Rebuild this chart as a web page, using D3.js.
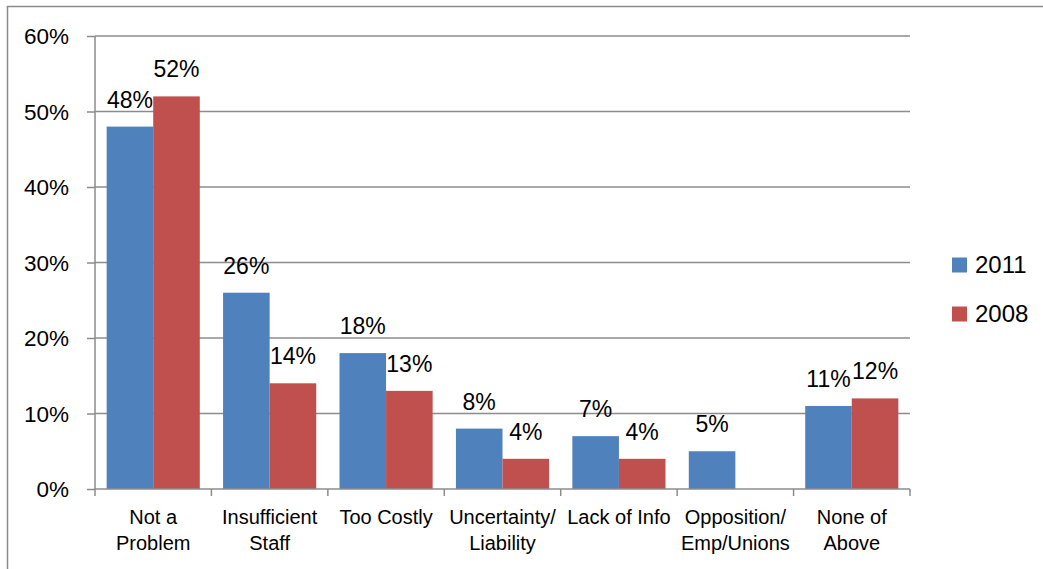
<!DOCTYPE html>
<html><head><meta charset="utf-8">
<script src="https://cdn.jsdelivr.net/npm/d3@7"></script>
<style>body{margin:0;background:#fff}svg{display:block}text{font-family:"Liberation Sans",Arial,sans-serif;fill:#000}</style>
</head><body>
<svg id="c" width="1043" height="569"></svg>
<script>
const categories = [["Not a","Problem"],["Insufficient","Staff"],["Too Costly"],["Uncertainty/","Liability"],["Lack of Info"],["Opposition/","Emp/Unions"],["None of","Above"]];
const series = ["2011","2008"];
const values2011 = [48,26,18,8,7,5,11];
const values2008 = [52,14,13,4,4,null,12];
const yTicks = [0,10,20,30,40,50,60];
const colors = ["#4F81BD","#C0504D"];

const svg = d3.select("#c");
svg.append("rect").attr("x",7.5).attr("y",6.5).attr("width",1100).attr("height",700)
  .attr("fill","none").attr("stroke","#8a8a8a").attr("stroke-width",1.5);

const L=95, R=910, T=36, B=489;
const x = d3.scaleBand().domain(d3.range(categories.length)).range([L,R]).paddingInner(0.2).paddingOuter(0.1);
const x0 = d3.scaleBand().domain(d3.range(categories.length)).range([L,R]);
const xs = d3.scaleBand().domain(series).range([0,x.bandwidth()]);
const y = d3.scaleLinear().domain([0,60]).range([B,T]);

// gridlines
svg.append("g").selectAll("line").data(yTicks.filter(d=>d>0)).join("line")
  .attr("x1",L).attr("x2",R).attr("y1",d=>y(d)).attr("y2",d=>y(d))
  .attr("stroke","#8c8c8c").attr("stroke-width",1.5);

const data = [values2011, values2008];
series.forEach((s,si)=>{
  const vals = data[si];
  const g = svg.append("g");
  g.selectAll("rect").data(vals.map((v,i)=>({v,i})).filter(d=>d.v!=null)).join("rect")
    .attr("x",d=>x(d.i)+xs(s)).attr("width",xs.bandwidth())
    .attr("y",d=>y(d.v)).attr("height",d=>B-y(d.v)).attr("fill",colors[si]);
  g.selectAll("text").data(vals.map((v,i)=>({v,i})).filter(d=>d.v!=null)).join("text")
    .attr("x",d=>x(d.i)+xs(s)+xs.bandwidth()/2).attr("y",d=>y(d.v)-19)
    .attr("text-anchor","middle").attr("font-size",23).text(d=>d.v+"%");
});

// y axis
const ya = d3.axisLeft(y).tickValues(yTicks).tickFormat(d=>d+"%").tickSize(8).tickPadding(18);
const yg = svg.append("g").attr("transform",`translate(${L},0)`).call(ya);
yg.selectAll("line,path").attr("stroke","#8c8c8c").attr("stroke-width",1.5);
yg.select("path").attr("d",`M0,${T}V${B}`);
yg.selectAll("text").attr("font-size",22.5).attr("dy","0.35em").style("font-family",'"Liberation Sans",Arial,sans-serif');

// x axis
const xg = svg.append("g");
xg.append("line").attr("x1",L).attr("x2",R).attr("y1",B).attr("y2",B).attr("stroke","#8c8c8c").attr("stroke-width",1.5);
xg.selectAll("line.t").data(d3.range(categories.length+1)).join("line").attr("class","t")
  .attr("x1",i=>L+i*x0.bandwidth()).attr("x2",i=>L+i*x0.bandwidth())
  .attr("y1",B).attr("y2",B+7).attr("stroke","#8c8c8c").attr("stroke-width",1.5);
categories.forEach((c,i)=>{
  const t = xg.append("text").attr("x",x0(i)+x0.bandwidth()/2).attr("y",524).attr("text-anchor","middle").attr("font-size",20);
  c.forEach((ln,j)=>t.append("tspan").attr("x",x0(i)+x0.bandwidth()/2).attr("y",524+j*26).text(ln));
});

// legend
series.forEach((s,si)=>{
  const cy = 265 + si*49;
  svg.append("rect").attr("x",952).attr("y",cy-7.5).attr("width",15).attr("height",15).attr("fill",colors[si]);
  svg.append("text").attr("x",975).attr("y",cy).attr("dy","0.35em").attr("font-size",24).text(s);
});
</script>
</body></html>
